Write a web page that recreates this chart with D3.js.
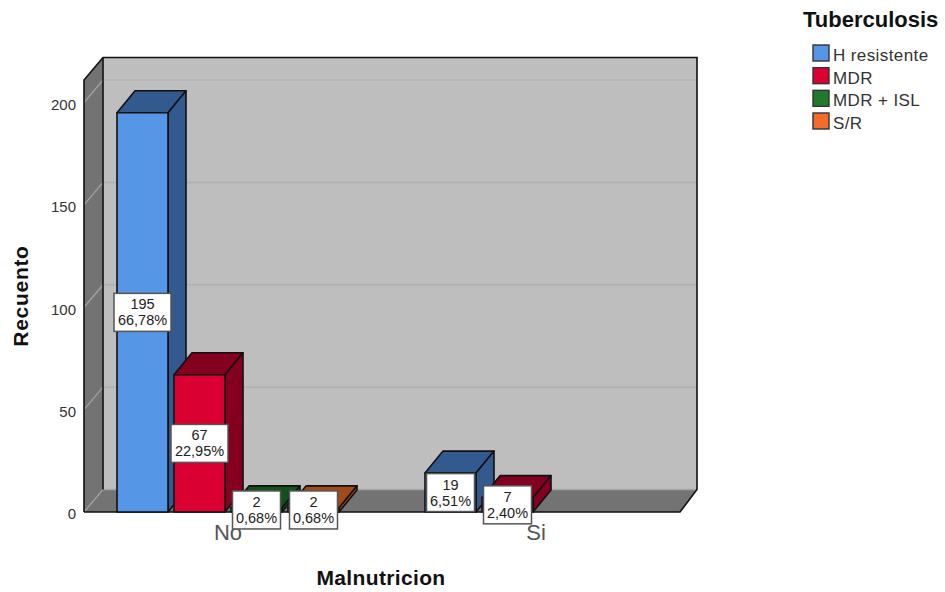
<!DOCTYPE html>
<html>
<head>
<meta charset="utf-8">
<script src="https://cdn.jsdelivr.net/npm/d3@7/dist/d3.min.js"></script>
<style>
  html, body { margin: 0; padding: 0; background: #fff; }
  svg { display: block; font-family: "Liberation Sans", Arial, sans-serif; }
</style>
</head>
<body>
<svg id="chart" width="945" height="592"></svg>
<script>
// Counts of tuberculosis type by malnutrition status
const categories = ["No", "Si"];
const seriesNames = ["H resistente", "MDR", "MDR + ISL", "S/R"];
const countsNo = [195, 67, 2, 2];
const countsSi = [19, 7, null, null];
const percentNo = ["66,78%", "22,95%", "0,68%", "0,68%"];
const percentSi = ["6,51%", "2,40%", null, null];
const yTicks = [0, 50, 100, 150, 200];

const frontColors = ["#5596e6", "#db0032", "#1f7a2c", "#f26c2a"];
const sideColors = ["#335a8f", "#83001f", "#14501c", "#a04a1c"];

const svg = d3.select("#chart");

// Plot frame and oblique depth of the 3D box
const frame = { left: 84, right: 680, bottom: 512, top: 80 };
const wallDepth = { x: 19, y: -22.5 };
const barDepth = { x: 18, y: -22 };

const y = d3.scaleLinear().domain([0, 200]).range([frame.bottom, 102.5]);
const x0 = d3.scaleBand().domain(categories).range([74, 690]);
const x1 = d3.scaleBand().domain(seriesNames).range([-111, 111]).paddingInner(0.105);

const poly = pts => pts.map(p => p.join(",")).join(" ");
const L = frame.left, R = frame.right, B = frame.bottom, T = frame.top;
const dx = wallDepth.x, dy = wallDepth.y;

// Walls and floor
const walls = svg.append("g");
walls.append("polygon").attr("points", poly([[L + dx, T + dy], [R + dx - 2, T + dy], [R + dx - 2, B + dy], [L + dx, B + dy]]))
  .attr("fill", "#bebebe");
walls.append("polygon").attr("points", poly([[L, T], [L + dx, T + dy], [L + dx, B + dy], [L, B]]))
  .attr("fill", "#737373");
walls.append("polygon").attr("points", poly([[L, B], [L + dx, B + dy], [R + dx - 2, B + dy], [R, B]]))
  .attr("fill", "#737373");

// Gridlines on the back wall, carried across the left wall
const grid = svg.append("g");
grid.selectAll("line.back").data(yTicks.slice(1)).join("line")
  .attr("class", "back")
  .attr("x1", L + dx).attr("x2", R + dx - 2)
  .attr("y1", d => y(d) + dy).attr("y2", d => y(d) + dy)
  .attr("stroke", "#b0b0b0").attr("stroke-width", 1.5);
grid.selectAll("line.side").data(yTicks).join("line")
  .attr("class", "side")
  .attr("x1", L).attr("x2", L + dx)
  .attr("y1", d => y(d)).attr("y2", d => y(d) + dy)
  .attr("stroke", "#a3a3a3").attr("stroke-width", 1.2);
grid.append("line")
  .attr("x1", L + dx).attr("x2", R + dx - 2)
  .attr("y1", B + dy).attr("y2", B + dy)
  .attr("stroke", "#a6a6a6").attr("stroke-width", 1.5);

// Frame outline
const outline = svg.append("g").attr("fill", "none").attr("stroke", "#111").attr("stroke-width", 1.6);
outline.append("polyline").attr("points", poly([[L, B], [L, T], [L + dx, T + dy], [R + dx - 2, T + dy], [R + dx - 2, B + dy], [R, B], [L, B]]));
outline.append("line").attr("x1", L + dx).attr("x2", L + dx).attr("y1", T + dy).attr("y2", B + dy);

// Flatten the two count arrays into one list of bars
const rows = [
  ...seriesNames.map((s, i) => ({ cat: "No", s, i, value: countsNo[i], pct: percentNo[i] })),
  ...seriesNames.map((s, i) => ({ cat: "Si", s, i, value: countsSi[i], pct: percentSi[i] }))
].filter(d => d.value !== null);

const bars = svg.append("g").attr("stroke", "#111").attr("stroke-width", 1.6).attr("stroke-linejoin", "round");
const bar = bars.selectAll("g").data(rows).join("g");
const xl = d => x0(d.cat) + x0.bandwidth() / 2 + x1(d.s);
const xr = d => xl(d) + x1.bandwidth();
const ddx = barDepth.x, ddy = barDepth.y;

bar.append("polygon")
  .attr("points", d => poly([[xl(d), y(d.value)], [xl(d) + ddx, y(d.value) + ddy], [xr(d) + ddx, y(d.value) + ddy], [xr(d), y(d.value)]]))
  .attr("fill", d => sideColors[d.i]);
bar.append("polygon")
  .attr("points", d => poly([[xr(d), y(d.value)], [xr(d) + ddx, y(d.value) + ddy], [xr(d) + ddx, y(0) + ddy], [xr(d), y(0)]]))
  .attr("fill", d => sideColors[d.i]);
bar.append("rect")
  .attr("x", xl).attr("y", d => y(d.value))
  .attr("width", x1.bandwidth()).attr("height", d => y(0) - y(d.value))
  .attr("fill", d => frontColors[d.i]);

// Value axis
const yAxis = d3.axisLeft(y).tickValues(yTicks).tickSize(0).tickPadding(8);
const yG = svg.append("g").attr("transform", `translate(${L},0)`).call(yAxis);
yG.select(".domain").remove();
yG.selectAll("text").attr("font-size", 15).attr("fill", "#333").attr("y", 2)
  .attr("font-family", "Liberation Sans, Arial, sans-serif");

// Category axis
const xAxis = d3.axisBottom(x0).tickSize(0).tickPadding(12);
const xG = svg.append("g").attr("transform", `translate(0,${B})`).call(xAxis);
xG.select(".domain").remove();
xG.selectAll("text").attr("font-size", 22).attr("fill", "#555").attr("font-family", "Liberation Sans, Arial, sans-serif");

// Value and percentage callouts
const callout = svg.append("g").selectAll("g").data(rows).join("g")
  .attr("transform", d => `translate(${xl(d) + x1.bandwidth() / 2},${(y(d.value) + y(0)) / 2})`);
callout.append("rect")
  .attr("x", d => d.pct.length > 5 ? -28.5 : -24).attr("y", -19)
  .attr("width", d => d.pct.length > 5 ? 57 : 48).attr("height", 38)
  .attr("fill", "#fff").attr("stroke", "#555").attr("stroke-width", 1.5);
callout.append("text").attr("text-anchor", "middle").attr("y", -3)
  .attr("font-size", 14.5).attr("fill", "#222").text(d => d.value);
callout.append("text").attr("text-anchor", "middle").attr("y", 13)
  .attr("font-size", 14.5).attr("fill", "#222").text(d => d.pct);

// Axis titles
svg.append("text").attr("transform", "translate(28,296) rotate(-90)")
  .attr("text-anchor", "middle").attr("font-size", 21).attr("letter-spacing", 0.7).attr("font-weight", "bold").attr("fill", "#111").text("Recuento");
svg.append("text").attr("x", 381).attr("y", 585)
  .attr("text-anchor", "middle").attr("font-size", 21).attr("letter-spacing", 0.35).attr("font-weight", "bold").attr("fill", "#111").text("Malnutricion");

// Legend
svg.append("text").attr("x", 803).attr("y", 27)
  .attr("font-size", 22).attr("font-weight", "bold").attr("fill", "#111").text("Tuberculosis");
const legendY = d3.scalePoint().domain(seriesNames).range([45, 113]);
const item = svg.append("g").selectAll("g").data(seriesNames).join("g")
  .attr("transform", d => `translate(813,${legendY(d)})`);
item.append("rect").attr("width", 16).attr("height", 16)
  .attr("fill", (d, i) => frontColors[i]).attr("stroke", "#333").attr("stroke-width", 1.4);
item.append("text").attr("x", 20).attr("y", 16)
  .attr("font-size", 17).attr("letter-spacing", 0.4).attr("fill", "#333").text(d => d);
</script>
</body>
</html>
